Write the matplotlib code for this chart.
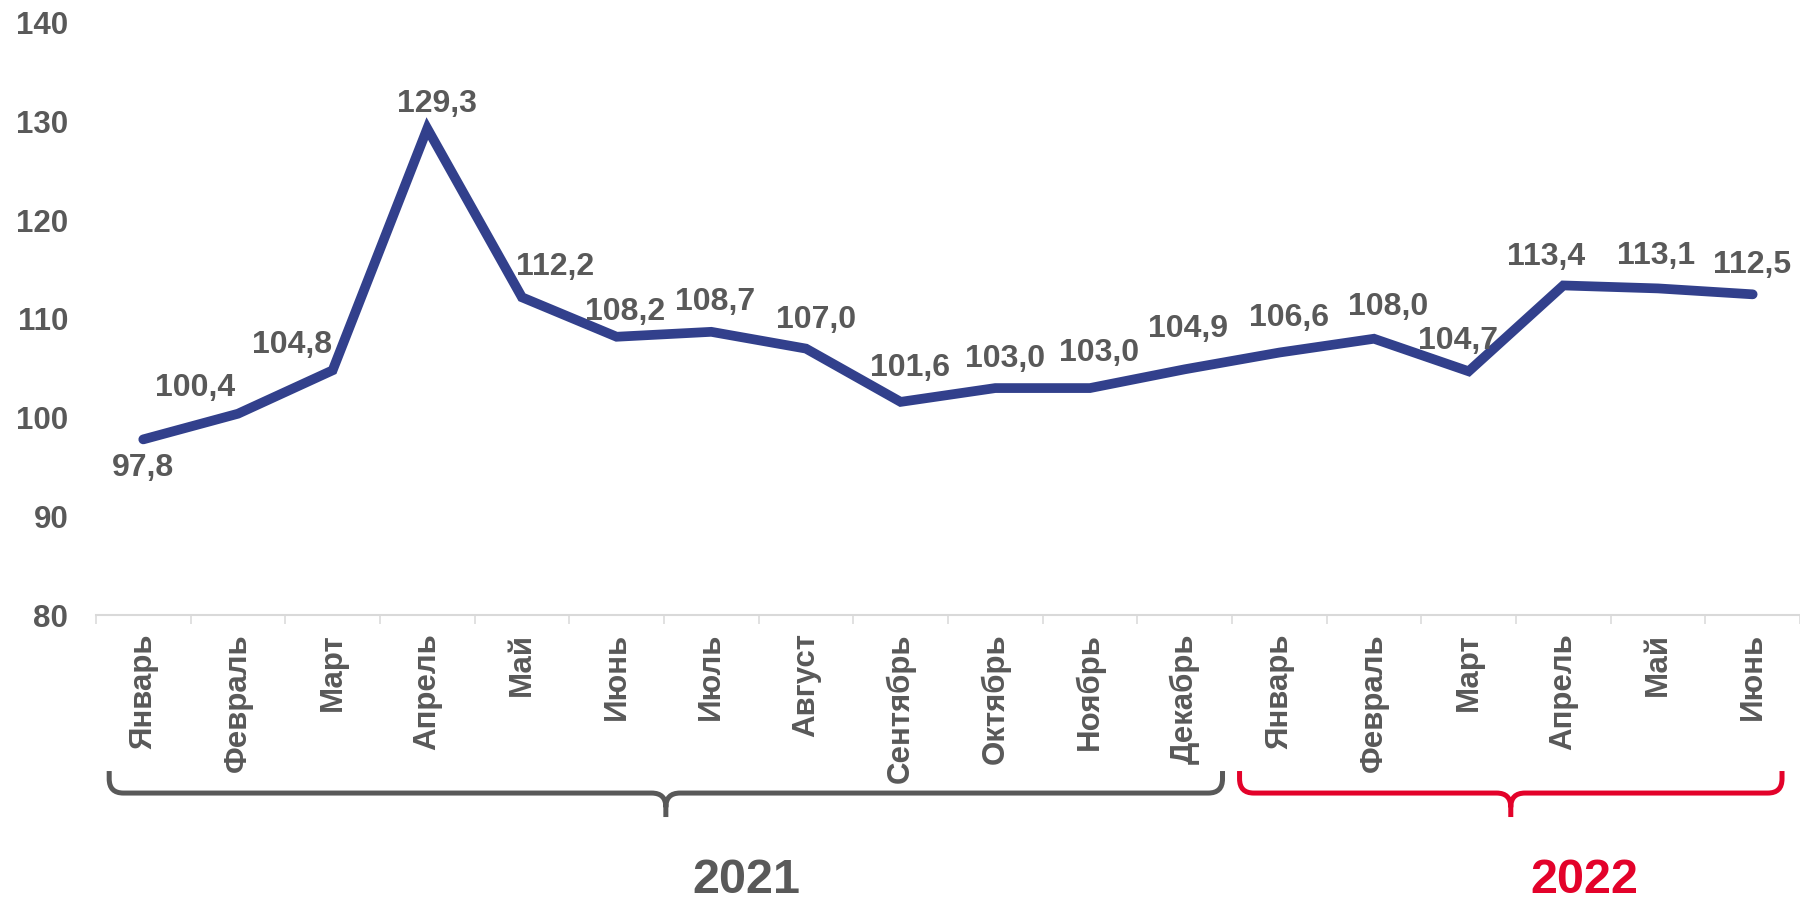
import matplotlib
matplotlib.use("Agg")
import matplotlib.pyplot as plt
import matplotlib.transforms as mtransforms
from matplotlib.path import Path
from matplotlib.patches import PathPatch

# данные
months = ["Январь", "Февраль", "Март", "Апрель", "Май", "Июнь", "Июль", "Август",
          "Сентябрь", "Октябрь", "Ноябрь", "Декабрь",
          "Январь", "Февраль", "Март", "Апрель", "Май", "Июнь"]
values = [97.8, 100.4, 104.8, 129.3, 112.2, 108.2, 108.7, 107.0,
          101.6, 103.0, 103.0, 104.9,
          106.6, 108.0, 104.7, 113.4, 113.1, 112.5]
years = ["2021", "2022"]
year_start = [0, 12]
year_end = [11, 17]

# смещения подписей (пиксели)
label_dx = [0, -43, -41, 10, 33, 8, 4, 10, 9, 10, 9, 3, 10, 14, -11, -17, -2, -1]
label_dy = [-29, 26, 25, 25, 30, 25, 30, 29, 34, 29, 35, 40, 35, 32, 30, 28, 32, 29]

# скобки: отступы краёв и сдвиг подписи года (в долях категории)
brace_lpad = [0.36, 0.42]
brace_rpad = [0.40, 0.31]
year_shift = [0.85, 0.78]

GRAY = "#595959"
LINE = "#32408C"
RED = "#E3022A"
year_colors = [GRAY, RED]

plt.rcParams['font.family'] = ['Liberation Sans', 'DejaVu Sans']
plt.rcParams['font.weight'] = 'bold'

fig = plt.figure(figsize=(18, 9.01), dpi=100)
ax = fig.add_axes([0.0533, 0.3174, 0.9467, 0.6571])

x = list(range(len(values)))
ax.plot(x, values, color=LINE, lw=7, solid_joinstyle='miter', solid_capstyle='round', zorder=3)

for i, v in enumerate(values):
    ax.annotate(f"{v:.1f}".replace(".", ","), (i, v),
                xytext=(label_dx[i], label_dy[i]), textcoords='offset pixels',
                ha='center', va='center', fontsize=23, fontweight='bold', color=GRAY)

ax.set_xlim(-0.5, len(values) - 0.5)
ax.set_ylim(80, 140)
ax.set_yticks(range(80, 141, 10))
ax.set_xticks(x)
ax.set_xticklabels(months, rotation=90, ha='center', va='top')
ax.set_xticks([i - 0.5 for i in range(len(values) + 1)], minor=True)

ax.tick_params(axis='y', length=0, pad=20, labelsize=22.5, labelcolor=GRAY)
ax.tick_params(axis='x', which='major', length=0, pad=13, labelsize=22.5, labelcolor=GRAY)
ax.tick_params(axis='x', which='minor', length=6.5, width=1.1, color='#D9D9D9')
for lab in ax.get_yticklabels() + ax.get_xticklabels():
    lab.set_fontweight('bold')

for s in ['top', 'right', 'left']:
    ax.spines[s].set_visible(False)
ax.spines['bottom'].set_color('#D9D9D9')
ax.spines['bottom'].set_linewidth(1.5)

# фигурные скобки под подписями месяцев
trans = mtransforms.blended_transform_factory(ax.transData, ax.transAxes)
y_top, y_mid, y_tip = -0.2635, -0.3007, -0.3412
rx, ry = 0.15, 0.024


def brace(x0, x1, color):
    xm = (x0 + x1) / 2
    verts = [(x0, y_top), (x0, y_mid + ry), (x0, y_mid), (x0 + rx, y_mid),
             (xm - rx, y_mid), (xm, y_mid), (xm, y_mid - ry), (xm, y_tip),
             (xm, y_mid - ry), (xm, y_mid), (xm + rx, y_mid),
             (x1 - rx, y_mid), (x1, y_mid), (x1, y_mid + ry), (x1, y_top)]
    codes = [Path.MOVETO, Path.LINETO, Path.CURVE3, Path.CURVE3,
             Path.LINETO, Path.CURVE3, Path.CURVE3, Path.LINETO,
             Path.MOVETO, Path.CURVE3, Path.CURVE3,
             Path.LINETO, Path.CURVE3, Path.CURVE3, Path.LINETO]
    p = PathPatch(Path(verts, codes), transform=trans, fill=False,
                  edgecolor=color, lw=3.6, clip_on=False, capstyle='butt')
    ax.add_patch(p)


for k, yr in enumerate(years):
    x0 = year_start[k] - brace_lpad[k]
    x1 = year_end[k] + brace_rpad[k]
    brace(x0, x1, year_colors[k])
    ax.text((x0 + x1) / 2 + year_shift[k], -0.4476, yr, transform=trans, ha='center', va='center',
            fontsize=35, fontweight='bold', color=year_colors[k])

fig.savefig("out.png", dpi=100)
